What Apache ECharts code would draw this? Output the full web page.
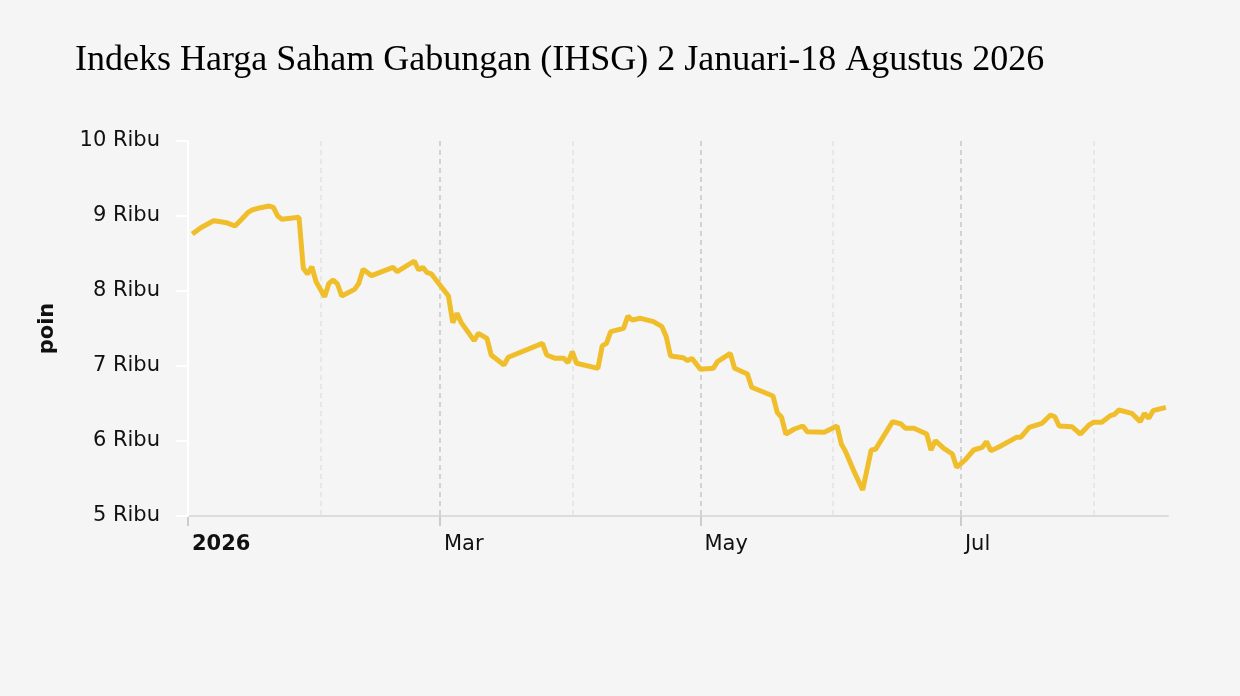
<!DOCTYPE html>
<html>
<head>
<meta charset="utf-8">
<title>IHSG 2026</title>
<script src="https://cdn.jsdelivr.net/npm/echarts@6/dist/echarts.min.js"></script>
<style>
  html, body { margin: 0; padding: 0; background: #f5f5f5; }
  #chart { width: 1240px; height: 696px; }
</style>
</head>
<body>
<div id="chart"></div>
<script>
// tanggal perdagangan
var dates = [
    "2026-01-02", "2026-01-04", "2026-01-07", "2026-01-09", "2026-01-10", "2026-01-12", "2026-01-13",
    "2026-01-15", "2026-01-16", "2026-01-18", "2026-01-20", "2026-01-21", "2026-01-22", "2026-01-23",
    "2026-01-25", "2026-01-27", "2026-01-28", "2026-01-29", "2026-01-30", "2026-01-31",
    "2026-02-02", "2026-02-03", "2026-02-04", "2026-02-05", "2026-02-06", "2026-02-09", "2026-02-10",
    "2026-02-11", "2026-02-13", "2026-02-18", "2026-02-19", "2026-02-23", "2026-02-24", "2026-02-25",
    "2026-02-26", "2026-02-27",
    "2026-03-01", "2026-03-03", "2026-03-04", "2026-03-05", "2026-03-06", "2026-03-09", "2026-03-10",
    "2026-03-12", "2026-03-13", "2026-03-16", "2026-03-17", "2026-03-25", "2026-03-26", "2026-03-28",
    "2026-03-30", "2026-03-31",
    "2026-04-01", "2026-04-02", "2026-04-07", "2026-04-08", "2026-04-09", "2026-04-10", "2026-04-13",
    "2026-04-14", "2026-04-15", "2026-04-17", "2026-04-20", "2026-04-22", "2026-04-23", "2026-04-24",
    "2026-04-27", "2026-04-28", "2026-04-29",
    "2026-05-01", "2026-05-04", "2026-05-05", "2026-05-08", "2026-05-09", "2026-05-12", "2026-05-13",
    "2026-05-18", "2026-05-19", "2026-05-20", "2026-05-21", "2026-05-23", "2026-05-25", "2026-05-26",
    "2026-05-30",
    "2026-06-02", "2026-06-03", "2026-06-04", "2026-06-06", "2026-06-08", "2026-06-09", "2026-06-10",
    "2026-06-11", "2026-06-15", "2026-06-17", "2026-06-18", "2026-06-20", "2026-06-23", "2026-06-24",
    "2026-06-25", "2026-06-27", "2026-06-29", "2026-06-30",
    "2026-07-02", "2026-07-04", "2026-07-06", "2026-07-07", "2026-07-08", "2026-07-10", "2026-07-14",
    "2026-07-15", "2026-07-17", "2026-07-20", "2026-07-22", "2026-07-23", "2026-07-24", "2026-07-27",
    "2026-07-29", "2026-07-31",
    "2026-08-01", "2026-08-03", "2026-08-05", "2026-08-06", "2026-08-07", "2026-08-10", "2026-08-12",
    "2026-08-13", "2026-08-14", "2026-08-15", "2026-08-18"
];

// nilai IHSG (poin)
var values = [
    8760, 8844, 8937, 8920, 8911, 8867, 8924,
    9044, 9080, 9111, 9133, 9116, 9000, 8956,
    8969, 8982, 8303, 8227, 8324, 8124,
    7924, 8102, 8147, 8093, 7933, 8022, 8102,
    8289, 8204, 8316, 8258, 8400, 8280, 8316,
    8244, 8227,
    8080, 7933, 7578, 7702, 7578, 7338, 7436,
    7369, 7147, 7013, 7116, 7302, 7147, 7102,
    7102, 7044,
    7191, 7036, 6969, 7267, 7302, 7458, 7502,
    7667, 7613, 7636, 7591, 7524, 7391, 7133,
    7111, 7071, 7102,
    6956, 6969, 7058, 7169, 6969, 6893, 6716,
    6600, 6378, 6316, 6093, 6160, 6200, 6124,
    6116,
    6200, 5960, 5858, 5591, 5347, 5613, 5880,
    5889, 6258, 6227, 6169, 6169, 6093, 5880,
    6004, 5902, 5827, 5649,
    5747, 5880, 5916, 5991, 5871, 5924, 6049,
    6049, 6182, 6236, 6347, 6324, 6200, 6191,
    6093, 6213,
    6249, 6249, 6338, 6356, 6413, 6369, 6258,
    6369, 6302, 6404, 6449
];

var monthNames = ["Jan", "Feb", "Mar", "Apr", "May", "Jun", "Jul", "Aug", "Sep", "Oct", "Nov", "Dec"];

var xMin = "2026-01-01";
var xMax = "2026-08-18T12:00:00";

var seriesData = [];
for (var i = 0; i < dates.length; i++) {
    seriesData.push([dates[i], values[i]]);
}

var chart = echarts.init(document.getElementById("chart"));

var labelFont = { fontFamily: "DejaVu Sans", fontSize: 21, color: "#111" };

var option = {
    backgroundColor: "#f5f5f5",
    animation: false,
    title: {
        text: "Indeks Harga Saham Gabungan (IHSG) 2 Januari-18 Agustus 2026",
        left: 70,
        top: 38,
        textStyle: {
            fontFamily: "Liberation Serif",
            fontSize: 36,
            fontWeight: "normal",
            color: "#000"
        }
    },
    grid: {
        left: 188,
        right: 72,
        top: 141,
        bottom: 180
    },
    xAxis: [
        {
            // garis bulanan tipis
            type: "time",
            min: xMin,
            max: xMax,
            splitNumber: 6,
            position: "bottom",
            axisLine: { lineStyle: { color: "#dcdcdc", width: 2 } },
            axisTick: { show: false },
            axisLabel: { show: false },
            splitLine: {
                show: true,
                showMinLine: false,
                showMaxLine: false,
                lineStyle: { color: "#e2e2e2", width: 1.5, type: [5, 4] }
            }
        },
        {
            // garis dua bulanan + label
            type: "time",
            min: xMin,
            max: xMax,
            splitNumber: 3,
            position: "bottom",
            offset: 0,
            z: 3,
            axisLine: { show: false },
            axisTick: { show: true, length: 10, lineStyle: { color: "#cccccc", width: 2 } },
            axisLabel: {
                align: "left",
                margin: 18,
                padding: [0, 0, 0, 4],
                fontFamily: labelFont.fontFamily,
                fontSize: labelFont.fontSize,
                color: labelFont.color,
                formatter: function (v) {
                    var d = new Date(v);
                    if (d.getMonth() === 0) {
                        return "{y|" + d.getFullYear() + "}";
                    }
                    return monthNames[d.getMonth()];
                },
                rich: {
                    y: { fontFamily: "DejaVu Sans", fontSize: 21, fontWeight: "bold", color: "#111" }
                }
            },
            splitLine: {
                show: true,
                showMaxLine: false,
                lineStyle: { color: "#cccccc", width: 1.5, type: [5, 4] }
            }
        }
    ],
    yAxis: {
        type: "value",
        min: 5000,
        max: 10000,
        interval: 1000,
        name: "poin",
        nameLocation: "middle",
        nameGap: 130,
        nameTextStyle: { fontFamily: "DejaVu Sans", fontSize: 21, fontWeight: "bold", color: "#111" },
        z: 4,
        axisLine: { show: true, lineStyle: { color: "#ffffff", width: 2 } },
        axisTick: { show: true, length: 12, lineStyle: { color: "#ffffff", width: 2 } },
        axisLabel: {
            margin: 28,
            fontFamily: labelFont.fontFamily,
            fontSize: labelFont.fontSize,
            color: labelFont.color,
            formatter: function (v) { return (v / 1000) + " Ribu"; }
        },
        splitLine: { show: false }
    },
    series: [
        {
            name: "IHSG",
            type: "line",
            xAxisIndex: 1,
            data: seriesData,
            showSymbol: false,
            z: 5,
            lineStyle: { color: "#f0be2a", width: 5 },
            itemStyle: { color: "#f0be2a" }
        }
    ]
};

chart.setOption(option);
</script>
</body>
</html>
